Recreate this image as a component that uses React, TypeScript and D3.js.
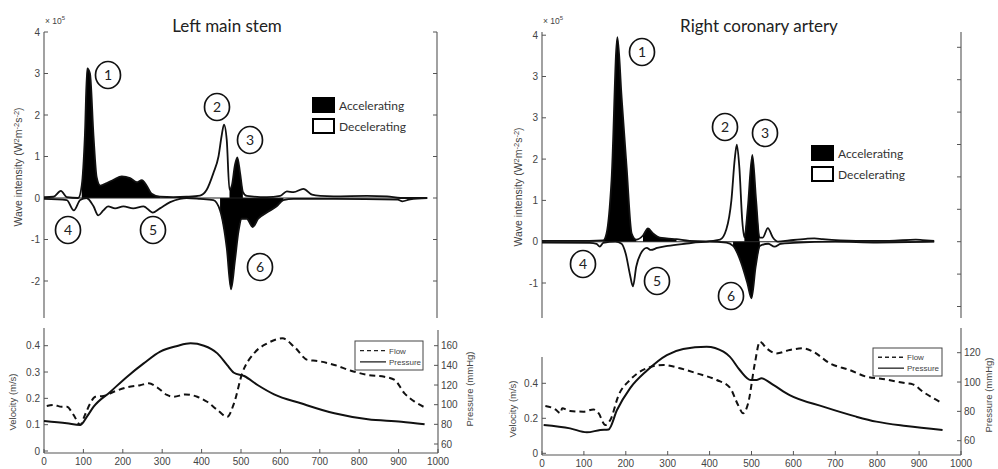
import React from 'react';
import * as d3 from 'd3';

// ---------- shared ----------
const timeTicks = [0, 100, 200, 300, 400, 500, 600, 700, 800, 900, 1000];

// ---------- Left main stem: wave intensity (x10^5 W m^-2 s^-2) ----------
const lmsFwdTime = [0, 24, 43, 58, 87, 96, 104, 110, 117, 126, 134, 143, 160, 177, 198, 219, 236, 249, 261, 274, 295, 329, 363, 397, 414, 431, 444, 452, 458, 465, 472, 478, 486, 492, 499, 506, 516, 567, 601, 618, 635, 660, 682, 703, 737, 822, 873, 907, 975];
const lmsFwdValue = [0.02, 0.03, 0.17, 0.02, 0.0, 0.3, 1.5, 3.12, 3.0, 1.5, 0.5, 0.3, 0.36, 0.44, 0.52, 0.48, 0.38, 0.43, 0.3, 0.1, 0.03, 0.02, 0.03, 0.06, 0.2, 0.6, 1.0, 1.5, 1.77, 1.4, 0.2, 0.3, 0.8, 0.98, 0.6, 0.15, 0.05, 0.02, 0.05, 0.16, 0.14, 0.22, 0.08, 0.05, 0.04, 0.05, 0.04, 0.0, 0.0];
const lmsFwdAccel = [[90, 300], [472, 512]];
const lmsBwdTime = [0, 58, 76, 92, 108, 126, 138, 151, 163, 181, 202, 227, 253, 277, 295, 321, 346, 363, 397, 431, 448, 465, 476, 486, 495, 503, 516, 531, 545, 567, 592, 609, 635, 737, 900, 912, 932, 975];
const lmsBwdValue = [-0.02, -0.05, -0.3, -0.05, 0.0, -0.2, -0.42, -0.3, -0.2, -0.25, -0.2, -0.25, -0.2, -0.35, -0.25, -0.1, -0.02, 0.0, -0.02, -0.05, -0.3, -1.2, -2.2, -1.5, -0.8, -0.5, -0.5, -0.7, -0.5, -0.35, -0.2, -0.05, -0.02, -0.02, -0.04, -0.08, -0.03, 0.0];
const lmsBwdAccel = [[440, 615]];
const lmsTicks = [-2, -1, 0, 1, 2, 3, 4];
const lmsTickLabels = ['-2', '-1', '0', '1', '2', '3', '4'];

// ---------- Right coronary artery: wave intensity ----------
const rcaFwdTime = [0, 114, 146, 154, 166, 180, 190, 202, 214, 225, 241, 253, 265, 281, 297, 321, 352, 392, 425, 440, 452, 460, 465, 471, 478, 483, 491, 502, 511, 519, 527, 539, 551, 563, 590, 630, 650, 670, 749, 829, 892, 908, 936];
const rcaFwdValue = [0.02, 0.02, 0.03, 0.2, 1.5, 4.95, 3.5, 1.8, 0.2, 0.05, 0.15, 0.32, 0.2, 0.1, 0.08, 0.06, 0.02, 0.01, 0.05, 0.3, 1.0, 2.0, 2.35, 1.8, 0.5, 0.1, 0.8, 2.1, 1.0, 0.1, 0.1, 0.33, 0.1, 0.0, 0.03, 0.07, 0.08, 0.06, 0.02, 0.02, 0.05, 0.04, 0.02];
const rcaFwdAccel = [[146, 225], [241, 330], [483, 522]];
const rcaBwdTime = [0, 114, 130, 138, 146, 175, 190, 200, 210, 217, 225, 235, 250, 260, 275, 300, 340, 400, 440, 456, 475, 490, 500, 510, 520, 540, 555, 570, 600, 700, 800, 936];
const rcaBwdValue = [-0.02, -0.03, -0.05, -0.12, -0.03, 0.0, -0.05, -0.3, -0.8, -1.08, -0.6, -0.3, -0.15, -0.2, -0.15, -0.1, -0.05, 0.0, -0.02, -0.1, -0.5, -1.0, -1.37, -0.6, -0.1, -0.05, -0.12, -0.05, -0.03, 0.0, -0.02, 0.0];
const rcaBwdAccel = [[456, 520]];
const rcaTicks = [-1, 0, 1, 2, 3, 4, 5];
const rcaTickLabels = ['-1', '0', '1', '2', '3', '3', '4'];

// ---------- Left main stem: flow velocity (m/s) and pressure (mmHg) ----------
const lmsFlowTime = [7, 24, 45, 58, 75, 92, 104, 117, 130, 151, 177, 211, 244, 266, 287, 312, 329, 359, 389, 414, 440, 465, 482, 503, 533, 567, 605, 635, 669, 694, 737, 779, 822, 864, 890, 915, 941, 966];
const lmsFlowValue = [0.171, 0.175, 0.168, 0.168, 0.137, 0.1, 0.137, 0.18, 0.206, 0.209, 0.225, 0.242, 0.25, 0.257, 0.242, 0.213, 0.206, 0.215, 0.206, 0.187, 0.156, 0.13, 0.18, 0.295, 0.371, 0.409, 0.428, 0.396, 0.346, 0.342, 0.327, 0.305, 0.289, 0.282, 0.27, 0.219, 0.187, 0.166];
const lmsPressTime = [0, 58, 92, 109, 126, 168, 211, 253, 295, 338, 372, 406, 440, 465, 482, 508, 542, 584, 652, 737, 822, 907, 966];
const lmsPressValue = [83.4, 81, 79.3, 87.8, 98, 113, 128.5, 142, 154, 159.7, 162.4, 160, 152.2, 140.3, 132.5, 129.2, 120, 110.5, 101.4, 91.2, 85.1, 82.7, 80];
const lmsVelTicks = [0, 0.1, 0.2, 0.3, 0.4];
const lmsPressTicks = [60, 80, 100, 120, 140, 160];

// ---------- Right coronary artery: flow velocity and pressure ----------
const rcaFlowTime = [8, 32, 44, 48, 67, 99, 123, 135, 151, 163, 183, 210, 250, 290, 329, 369, 417, 448, 468, 480, 492, 508, 520, 536, 560, 591, 623, 647, 687, 734, 774, 813, 869, 885, 909, 956];
const rcaFlowValue = [0.27, 0.251, 0.229, 0.257, 0.242, 0.238, 0.251, 0.229, 0.162, 0.19, 0.333, 0.419, 0.486, 0.505, 0.486, 0.457, 0.419, 0.377, 0.276, 0.229, 0.286, 0.514, 0.638, 0.6, 0.571, 0.59, 0.6, 0.581, 0.514, 0.476, 0.438, 0.425, 0.4, 0.394, 0.352, 0.286];
const rcaPressTime = [4, 67, 107, 139, 159, 179, 210, 250, 298, 337, 393, 433, 448, 472, 498, 512, 524, 552, 591, 671, 750, 798, 869, 956];
const rcaPressValue = [70.7, 68.4, 65.7, 67.3, 67.7, 80.9, 95.7, 107.7, 118.4, 122.5, 124.1, 120.7, 117.3, 108.2, 101.4, 101.4, 102.5, 98, 91.1, 83.2, 76.4, 73, 70, 67.3];
const rcaVelTicks = [0, 0.2, 0.4];
const rcaPressTicks = [60, 80, 100, 120];

const legendWave = ['Accelerating', 'Decelerating'];
const legendFlow = ['Flow', 'Pressure'];

const AX = '#555';
const TXT = '#444';
const SANS = '"Liberation Sans", Arial, sans-serif';
const CAL = 'Lato, "Open Sans", sans-serif';

type Pt = { t: number; v: number };
const zip = (ts: number[], vs: number[]): Pt[] => ts.map((t, i) => ({ t, v: vs[i] }));

function Circled({ cx, cy, n }: { cx: number; cy: number; n: string }) {
  return (
    <g>
      <ellipse cx={cx} cy={cy} rx={12.5} ry={13.5} fill="white" stroke="#111" strokeWidth={1.7} />
      <text x={cx} y={cy + 5} textAnchor="middle" fontFamily={CAL} fontSize={14} fill="#222">{n}</text>
    </g>
  );
}

function WavePanel(props: any) {
  const { x0, x1, yZero, unit, top, bottom, fwd, bwd, fwdAcc, bwdAcc, ticks, tickLabels, rightTicks, title, titleX, legX, legY, circles, labelX, labelY, expX } = props;
  const x = d3.scaleLinear().domain([0, 1000]).range([x0, x1]);
  const y = d3.scaleLinear().domain([0, 1]).range([yZero, yZero - unit]);
  const line = d3.line<Pt>().x(d => x(d.t)).y(d => y(d.v)).curve(d3.curveMonotoneX);
  const area = (pts: Pt[], a: number, b: number) =>
    d3.area<Pt>().x(d => x(d.t)).y0(y(0)).y1(d => y(d.v)).curve(d3.curveMonotoneX)(pts.filter(p => p.t >= a && p.t <= b)) || '';
  const tEnd = Math.max(fwd[fwd.length - 1].t, bwd[bwd.length - 1].t);
  return (
    <g>
      <text x={titleX} y={32} textAnchor="middle" fontFamily={CAL} fontSize={17} fill="#222">{title}</text>
      <text x={expX} y={24} fontFamily={SANS} fontSize={8.5} fill={TXT}>× 10<tspan dy={-4} fontSize={6}>5</tspan></text>
      <line x1={x0} x2={x0} y1={top} y2={bottom} stroke={AX} strokeWidth={1.1} />
      <line x1={x1} x2={x1} y1={top} y2={bottom} stroke={AX} strokeWidth={1.1} />
      {ticks.map((t: number, i: number) => (
        <g key={'l' + i}>
          <line x1={x0} x2={x0 + 4} y1={y(t)} y2={y(t)} stroke={AX} />
          <text x={x0 - 4} y={y(t) + 3.5} textAnchor="end" fontFamily={SANS} fontSize={10} fill={TXT}>{tickLabels[i]}</text>
        </g>
      ))}
      {rightTicks.map((py: number, i: number) => (
        <line key={'r' + i} x1={x1} x2={x1 - 4} y1={py} y2={py} stroke={AX} />
      ))}
      <text transform={`translate(${labelX},${labelY}) rotate(-90)`} textAnchor="middle" fontFamily={SANS} fontSize={10.5} fill={TXT}>
        Wave intensity (W<tspan dy={-3.5} fontSize={7.5}>2</tspan><tspan dy={3.5}>m</tspan><tspan dy={-3.5} fontSize={7.5}>-2</tspan><tspan dy={3.5}>s</tspan><tspan dy={-3.5} fontSize={7.5}>-2</tspan><tspan dy={3.5}>)</tspan>
      </text>
      {fwdAcc.map((r: number[], i: number) => <path key={'fa' + i} d={area(fwd, r[0], r[1])} fill="#000" />)}
      {bwdAcc.map((r: number[], i: number) => <path key={'ba' + i} d={area(bwd, r[0], r[1])} fill="#000" />)}
      <line x1={x(0)} x2={x(tEnd)} y1={y(0)} y2={y(0)} stroke="#222" strokeWidth={1.1} />
      <path d={line(fwd) || ''} fill="none" stroke="#111" strokeWidth={1.8} />
      <path d={line(bwd) || ''} fill="none" stroke="#111" strokeWidth={1.8} />
      <rect x={legX} y={legY} width={23} height={16} fill="#000" />
      <rect x={legX + 1} y={legY + 22} width={21} height={14} fill="white" stroke="#000" strokeWidth={2} />
      <text x={legX + 27} y={legY + 13} fontFamily={CAL} fontSize={12} fill="#333">{legendWave[0]}</text>
      <text x={legX + 27} y={legY + 34} fontFamily={CAL} fontSize={12} fill="#333">{legendWave[1]}</text>
      {circles.map((c: number[], i: number) => <Circled key={'c' + i} cx={c[0]} cy={c[1]} n={String(i + 1)} />)}
    </g>
  );
}

function FlowPanel(props: any) {
  const { x0, x1, axisY, vDom, vRange, pDom, pRange, leftTop, rightTop, flow, press, vTicks, pTicks, legX, legY, legW, legH, velX, velY, presX, presY } = props;
  const x = d3.scaleLinear().domain([0, 1000]).range([x0, x1]);
  const yv = d3.scaleLinear().domain(vDom).range(vRange);
  const yp = d3.scaleLinear().domain(pDom).range(pRange);
  const lv = d3.line<Pt>().x(d => x(d.t)).y(d => yv(d.v)).curve(d3.curveMonotoneX);
  const lp = d3.line<Pt>().x(d => x(d.t)).y(d => yp(d.v)).curve(d3.curveMonotoneX);
  return (
    <g>
      <line x1={x0} x2={x1} y1={axisY} y2={axisY} stroke={AX} strokeWidth={1.1} />
      <line x1={x0} x2={x0} y1={leftTop} y2={axisY} stroke={AX} strokeWidth={1.1} />
      <line x1={x1} x2={x1} y1={rightTop} y2={axisY} stroke={AX} strokeWidth={1.1} />
      {timeTicks.map(t => (
        <g key={'x' + t}>
          <line x1={x(t)} x2={x(t)} y1={axisY} y2={axisY - 4} stroke={AX} />
          <text x={x(t)} y={axisY + 12} textAnchor="middle" fontFamily={SANS} fontSize={10} fill={TXT}>{t}</text>
        </g>
      ))}
      {vTicks.map((t: number) => (
        <g key={'v' + t}>
          <line x1={x0} x2={x0 + 4} y1={yv(t)} y2={yv(t)} stroke={AX} />
          <text x={x0 - 4} y={yv(t) + 3.5} textAnchor="end" fontFamily={SANS} fontSize={10} fill={TXT}>{String(t)}</text>
        </g>
      ))}
      {pTicks.map((t: number) => (
        <g key={'p' + t}>
          <line x1={x1} x2={x1 - 4} y1={yp(t)} y2={yp(t)} stroke={AX} />
          <text x={x1 + 3} y={yp(t) + 3.5} textAnchor="start" fontFamily={SANS} fontSize={10} fill={TXT}>{t}</text>
        </g>
      ))}
      <text transform={`translate(${velX},${velY}) rotate(-90)`} textAnchor="middle" fontFamily={SANS} fontSize={9.5} fill={TXT}>Velocity (m/s)</text>
      <text transform={`translate(${presX},${presY}) rotate(-90)`} textAnchor="middle" fontFamily={SANS} fontSize={9.5} fill={TXT}>Pressure (mmHg)</text>
      <path d={lv(flow) || ''} fill="none" stroke="#111" strokeWidth={2} strokeDasharray="6,4" />
      <path d={lp(press) || ''} fill="none" stroke="#111" strokeWidth={2} />
      <rect x={legX} y={legY} width={legW} height={legH} fill="white" stroke="#444" strokeWidth={1} />
      <line x1={legX + 5} x2={legX + 31} y1={legY + legH * 0.33} y2={legY + legH * 0.33} stroke="#222" strokeWidth={1.3} strokeDasharray="4,3" />
      <line x1={legX + 5} x2={legX + 31} y1={legY + legH * 0.72} y2={legY + legH * 0.72} stroke="#222" strokeWidth={1.3} />
      <text x={legX + 34} y={legY + legH * 0.33 + 3} fontFamily={SANS} fontSize={8} fill={TXT}>{legendFlow[0]}</text>
      <text x={legX + 34} y={legY + legH * 0.72 + 3} fontFamily={SANS} fontSize={8} fill={TXT}>{legendFlow[1]}</text>
    </g>
  );
}

export default function App() {
  return (
    <div style={{ position: 'absolute', left: 0, top: 0, width: 998, height: 469, background: 'white' }}>
      <svg width={998} height={469} viewBox="0 0 998 469" style={{ display: 'block' }}>
        <rect width={998} height={469} fill="white" />
        <WavePanel
          x0={44} x1={437} yZero={198} unit={41.5} top={32} bottom={318}
          fwd={zip(lmsFwdTime, lmsFwdValue)} bwd={zip(lmsBwdTime, lmsBwdValue)}
          fwdAcc={lmsFwdAccel} bwdAcc={lmsBwdAccel}
          ticks={lmsTicks} tickLabels={lmsTickLabels}
          rightTicks={lmsTicks.map(t => 198 - 41.5 * t)}
          title="Left main stem" titleX={227}
          legX={312} legY={97}
          circles={[[108, 75], [217, 107], [250, 140], [68, 230], [153, 230], [260, 267]]}
          labelX={22} labelY={167} expX={45}
        />
        <WavePanel
          x0={542} x1={961} yZero={241.7} unit={41.3} top={32} bottom={318}
          fwd={zip(rcaFwdTime, rcaFwdValue)} bwd={zip(rcaBwdTime, rcaBwdValue)}
          fwdAcc={rcaFwdAccel} bwdAcc={rcaBwdAccel}
          ticks={rcaTicks} tickLabels={rcaTickLabels}
          rightTicks={[-2, -1, 0, 1, 2, 3, 4, 5, 6].map(k => 241.7 - 32.4 * k)}
          title="Right coronary artery" titleX={759}
          legX={811} legY={145}
          circles={[[642, 52], [725, 127], [765, 133], [583, 264], [657, 281], [731, 296]]}
          labelX={522} labelY={187} expX={543}
        />
        <FlowPanel
          x0={44} x1={438} axisY={453}
          vDom={[0, 0.4]} vRange={[451, 345.7]} pDom={[60, 160]} pRange={[444, 345.7]}
          leftTop={328} rightTop={330}
          flow={zip(lmsFlowTime, lmsFlowValue)} press={zip(lmsPressTime, lmsPressValue)}
          vTicks={lmsVelTicks} pTicks={lmsPressTicks}
          legX={355} legY={341} legW={68} legH={29}
          velX={16} velY={402} presX={473} presY={389}
        />
        <FlowPanel
          x0={542} x1={961} axisY={455}
          vDom={[0, 0.4]} vRange={[453.3, 383.3]} pDom={[60, 120]} pRange={[440.7, 352.7]}
          leftTop={357} rightTop={328}
          flow={zip(rcaFlowTime, rcaFlowValue)} press={zip(rcaPressTime, rcaPressValue)}
          vTicks={rcaVelTicks} pTicks={rcaPressTicks}
          legX={873} legY={348} legW={69} legH={28}
          velX={516} velY={409} presX={992} presY={395}
        />
      </svg>
    </div>
  );
}
